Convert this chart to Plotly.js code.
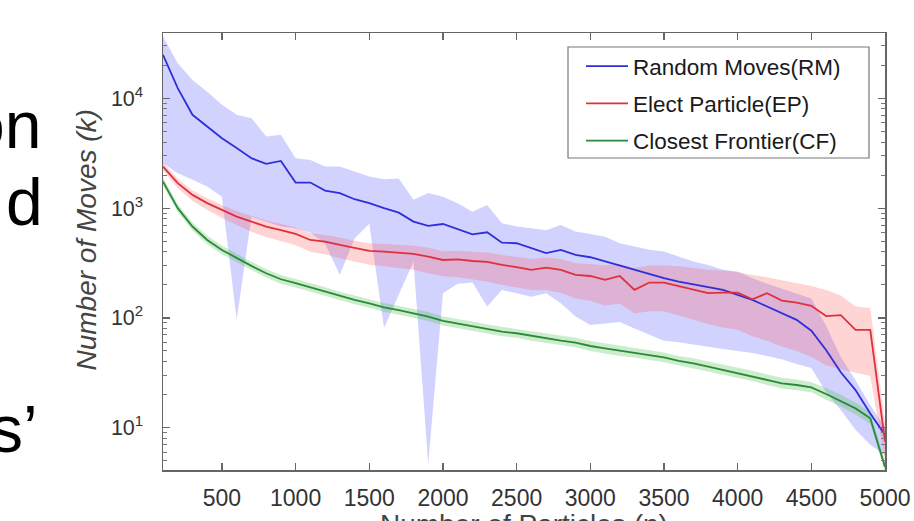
<!DOCTYPE html>
<html>
<head>
<meta charset="utf-8">
<script src="https://cdn.plot.ly/plotly-3.0.1.min.js"></script>
<style>html,body{margin:0;padding:0;background:#fff;}#chart{width:914px;height:521px;}</style>
</head>
<body>
<div id="chart"></div>
<script>
// Number of particles (n)
const particles = [100,200,300,400,500,600,700,800,900,1000,1100,1200,1300,1400,1500,1600,1700,1800,1900,2000,2100,2200,2300,2400,2500,2600,2700,2800,2900,3000,3100,3200,3300,3400,3500,3600,3700,3800,3900,4000,4100,4200,4300,4400,4500,4600,4700,4800,4900,5000];

// Random Moves (RM): mean and band
const rmMean  = [24900,12400,7080,5530,4330,3520,2850,2530,2690,1710,1710,1445,1370,1205,1110,1000,910,754,689,717,642,578,603,485,479,431,390,417,375,357,326,298,274,251,230,214,202,190,180,162,146,127,110,96,76.5,51,32,22,13.5,8.6];
const rmUpper = [36500,20900,14700,11500,8720,7070,6600,4490,4650,2850,2750,2390,2390,2150,1940,1830,1860,1190,1370,1270,1110,928,1070,730,680,656,630,703,611,582,550,478,446,417,402,361,326,304,274,264,230,205,185,168,150,85,44,27,16,10];
const rmLower = [2560,2080,1810,1570,1270,96,830,753,680,656,600,474,247,530,720,81,160,326,4.7,168,205,210,127,180,168,156,168,136,103,86,89,92,80,70,62,60,57,55,52,50,48,45,42,38,35,21,14.5,9.6,7,5.6];

// Elect Particle (EP): mean and band
const epMean  = [2390,1690,1320,1110,964,838,754,680,631,582,513,495,462,431,408,402,394,383,362,337,342,330,324,304,290,274,287,274,247,241,222,241,180,210,210,195,182,168,170,170,148,168,144,138,129,104,106,78,78,7.5];
const epUpper = [2600,1850,1450,1230,1070,940,850,770,720,665,590,570,540,505,480,475,465,455,435,405,410,400,395,375,360,345,355,345,315,310,300,310,285,300,300,295,285,275,270,262,246,235,220,208,195,180,160,127,123,11];
const epLower = [2200,1520,1170,960,815,700,610,545,500,460,400,380,350,325,305,295,285,275,255,240,235,225,215,200,190,180,180,170,150,143,130,135,110,115,115,105,95,88,82,78,68,62,55,50,44,37,34,31.5,29.6,5];

// Closest Frontier (CF): mean and band
const cfMean  = [1745,1000,680,513,416,350,298,255,225,207,190,173,158,146,136,125,118,110,103,94,89,84.5,79,75,72.5,68.5,65.3,62,59.6,55.5,52.8,50.3,48.2,45.9,43.7,40.7,38.6,36,33.6,31.7,29.6,27.2,25.4,24.5,23.3,20.3,17.6,15,12.2,4.4];
const cfUpper = [1900,1090,740,560,455,382,325,278,246,226,208,190,173,160,149,137,129,121,113,103,98,93,87,83,80,76,72,69,66,61.5,58.5,56,53.5,51,48.5,45,43,40,37.5,35.5,33,30.5,28.5,27.5,26,23,20,17,13.8,5];
const cfLower = [1610,920,625,470,380,320,273,233,205,189,173,158,144,133,124,114,107,100,94,85.5,81,77,72,68,66,62,59,56,54,50,47.5,45,43.5,41.5,39.5,36.8,34.8,32.5,30.3,28.6,26.7,24.5,22.8,22,21,18,15.6,13.2,10.8,4];

const seriesNames = ['Random Moves(RM)','Elect Particle(EP)','Closest Frontier(CF)'];
const xTicks = [500,1000,1500,2000,2500,3000,3500,4000,4500,5000];
const yTicks = [10,100,1000,10000];
const yTickText = ['10<sup>1</sup>','10<sup>2</sup>','10<sup>3</sup>','10<sup>4</sup>'];
const yMinorTicks = [5,6,7,8,9,20,30,40,50,60,70,80,90,200,300,400,500,600,700,800,900,2000,3000,4000,5000,6000,7000,8000,9000,20000,30000];

const FONT = 'Liberation Sans, Arial, sans-serif';
const lineColors = ['#2f2fd8','#e0303c','#2a8a3a'];
const fillColors = ['rgba(95,95,255,0.28)','rgba(255,85,85,0.25)','rgba(70,190,70,0.28)'];

function band(upper, lower, fill) {
  return [
    {x: particles, y: upper, type: 'scatter', mode: 'lines', line: {width: 0}, hoverinfo: 'skip', showlegend: false},
    {x: particles, y: lower, type: 'scatter', mode: 'lines', line: {width: 0}, fill: 'tonexty', fillcolor: fill, hoverinfo: 'skip', showlegend: false}
  ];
}

const means = [rmMean, epMean, cfMean];
const traces = [].concat(
  band(rmUpper, rmLower, fillColors[0]),
  band(epUpper, epLower, fillColors[1]),
  band(cfUpper, cfLower, fillColors[2]),
  means.map((m, i) => ({
    x: particles, y: m, type: 'scatter', mode: 'lines', name: seriesNames[i],
    legendgroup: 'g' + i,
    line: {color: lineColors[i], width: 1.8}
  }))
);

function px2paperX(p) { return (p - 163) / 722; }
function px2paperY(p) { return (470 - p) / 437; }

const layout = {
  width: 914, height: 521,
  margin: {l: 163, r: 29, t: 33, b: 51},
  paper_bgcolor: '#ffffff', plot_bgcolor: '#ffffff',
  font: {family: FONT, color: '#333333'},
  showlegend: true,
  legend: {
    x: px2paperX(581), y: px2paperY(45), xanchor: 'left', yanchor: 'top',
    bgcolor: 'rgba(0,0,0,0)', borderwidth: 0,
    font: {family: FONT, size: 22.5, color: '#1a1a1a'},
    tracegroupgap: 5, itemwidth: 42
  },
  shapes: [
    {type: 'rect', xref: 'paper', yref: 'paper', x0: px2paperX(568), x1: px2paperX(869), y0: px2paperY(158), y1: px2paperY(47),
     line: {color: '#777777', width: 1.2}, fillcolor: 'rgba(0,0,0,0)', layer: 'above'}
  ],
  xaxis: {
    range: [100, 5000], tickvals: xTicks, ticktext: xTicks.map(String),
    ticks: 'inside', ticklen: 7, tickcolor: '#666', tickwidth: 1.2,
    showline: true, linecolor: '#666', linewidth: 1.5, mirror: 'ticks',
    showgrid: false, zeroline: false,
    tickfont: {family: FONT, size: 23, color: '#333'},
    ticklabelstandoff: 7
  },
  yaxis: {
    type: 'log', range: [0.615, 4.595], tickvals: yTicks, ticktext: yTickText,
    ticks: 'inside', ticklen: 7, tickcolor: '#666', tickwidth: 1.2,
    minor: {tickmode: 'array', tickvals: yMinorTicks, ticks: 'inside', ticklen: 4, tickcolor: '#777', tickwidth: 1, showgrid: false},
    showline: true, linecolor: '#666', linewidth: 1.5, mirror: 'ticks',
    showgrid: false, zeroline: false,
    tickfont: {family: FONT, size: 21.5, color: '#333'},
    ticklabelstandoff: 14,
    title: {text: '<i>&nbsp;&nbsp;&nbsp;Number of Moves (k)</i>', font: {family: FONT, size: 28, color: '#444'}, standoff: 6}
  },
  annotations: [
    {text: 'Number of Particles (n)', xref: 'paper', yref: 'paper', x: 0.5, y: px2paperY(508), xanchor: 'center', yanchor: 'top', showarrow: false, borderpad: 0, font: {family: FONT, size: 28, color: '#444'}},
    {text: 'on', xref: 'paper', yref: 'paper', x: px2paperX(43), y: px2paperY(125), xanchor: 'right', yanchor: 'middle', showarrow: false, font: {family: FONT, size: 66, color: '#000'}},
    {text: 'd', xref: 'paper', yref: 'paper', x: px2paperX(45), y: px2paperY(202), xanchor: 'right', yanchor: 'middle', showarrow: false, font: {family: FONT, size: 66, color: '#000'}},
    {text: 's\u2019', xref: 'paper', yref: 'paper', x: px2paperX(40), y: px2paperY(429), xanchor: 'right', yanchor: 'middle', showarrow: false, font: {family: FONT, size: 66, color: '#000'}}
  ]
};

Plotly.newPlot('chart', traces, layout, {displayModeBar: false, staticPlot: true});
</script>
</body>
</html>
